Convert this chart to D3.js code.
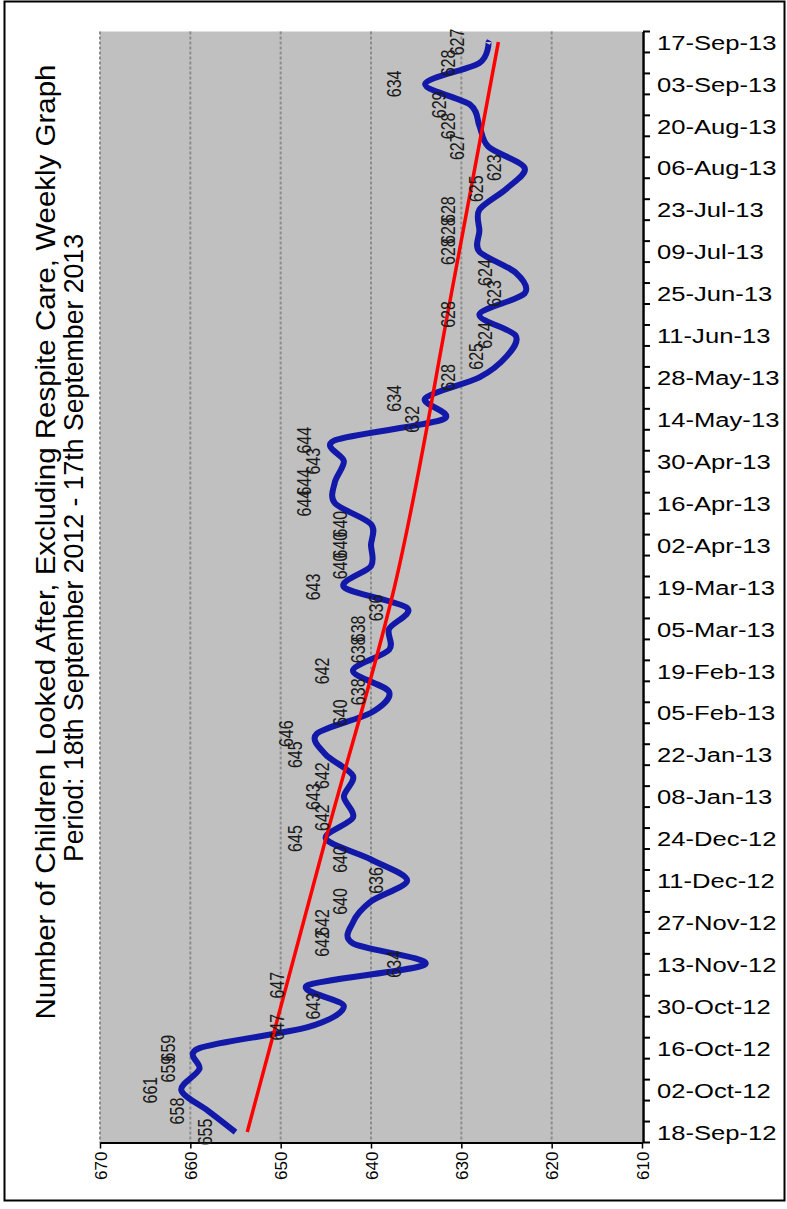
<!DOCTYPE html>
<html>
<head>
<meta charset="utf-8">
<script src="https://cdn.jsdelivr.net/npm/d3@7"></script>
<style>
  body { margin: 0; background: #fff; }
  svg { display: block; }
</style>
</head>
<body>
<svg id="chart" width="787" height="1209"></svg>
<script>
// Weekly count of children looked after (excluding respite care)
const weekDates = [
  "18-Sep-12","25-Sep-12","02-Oct-12","09-Oct-12","16-Oct-12","23-Oct-12","30-Oct-12","06-Nov-12",
  "13-Nov-12","20-Nov-12","27-Nov-12","04-Dec-12","11-Dec-12","18-Dec-12","24-Dec-12","31-Dec-12",
  "08-Jan-13","15-Jan-13","22-Jan-13","29-Jan-13","05-Feb-13","12-Feb-13","19-Feb-13","26-Feb-13",
  "05-Mar-13","12-Mar-13","19-Mar-13","26-Mar-13","02-Apr-13","09-Apr-13","16-Apr-13","23-Apr-13",
  "30-Apr-13","07-May-13","14-May-13","21-May-13","28-May-13","04-Jun-13","11-Jun-13","18-Jun-13",
  "25-Jun-13","02-Jul-13","09-Jul-13","16-Jul-13","23-Jul-13","30-Jul-13","06-Aug-13","13-Aug-13",
  "20-Aug-13","27-Aug-13","03-Sep-13","10-Sep-13","17-Sep-13"
];
const childrenCounts = [
  655,658,661,659,659,647,643,647,634,642,642,640,636,640,645,642,643,642,645,646,
  640,638,642,638,638,636,643,640,640,640,644,644,643,644,632,634,628,625,624,628,
  623,624,628,628,628,625,623,627,628,629,634,628,627
];
// Trend line, sampled at a few weeks
const trendWeeks = ["18-Sep-12","24-Dec-12","19-Mar-13","25-Jun-13","17-Sep-13"];
const trendValues = [653.7, 645.0, 637.4, 631.1, 625.9];

const valueTicks = [670, 660, 650, 640, 630, 620, 610];
const dateTickLabels = [
  "18-Sep-12","02-Oct-12","16-Oct-12","30-Oct-12","13-Nov-12","27-Nov-12","11-Dec-12",
  "24-Dec-12","08-Jan-13","22-Jan-13","05-Feb-13","19-Feb-13","05-Mar-13","19-Mar-13",
  "02-Apr-13","16-Apr-13","30-Apr-13","14-May-13","28-May-13","11-Jun-13","25-Jun-13",
  "09-Jul-13","23-Jul-13","06-Aug-13","20-Aug-13","03-Sep-13","17-Sep-13"
];
const titleLines = [
  "Number of Children Looked After, Excluding Respite Care, Weekly Graph",
  "Period: 18th  September 2012 - 17th  September 2013"
];

const svg = d3.select("#chart");
const plot = { left: 100, right: 642, top: 31.5, bottom: 1142.5 };
const stretch = 1.28; // horizontal stretch applied to the data labels

// Outer frame
svg.append("rect")
  .attr("x", 4.5).attr("y", 1.5).attr("width", 780).attr("height", 1199)
  .attr("fill", "#fff").attr("stroke", "#000").attr("stroke-width", 2);

const x = d3.scaleLinear().domain([670, 610]).range([plot.left, plot.right]);
const y = d3.scaleBand().domain(weekDates).range([plot.bottom, plot.top]).paddingInner(0).paddingOuter(0);
const yc = d => y(d) + y.bandwidth() / 2;

// Plot area
svg.append("rect")
  .attr("x", plot.left).attr("y", plot.top)
  .attr("width", plot.right - plot.left).attr("height", plot.bottom - plot.top)
  .attr("fill", "#c0c0c0");

// Vertical dotted grid lines
svg.append("g").selectAll("line")
  .data(valueTicks.slice(0, -1))
  .join("line")
  .attr("x1", d => x(d)).attr("x2", d => x(d))
  .attr("y1", plot.top).attr("y2", plot.bottom)
  .attr("stroke", "#8c8c8c").attr("stroke-width", 2)
  .attr("stroke-dasharray", "3,2");

// Value axis along the bottom
const xAxis = svg.append("g")
  .attr("transform", `translate(0,${plot.bottom})`)
  .call(d3.axisBottom(x).tickValues(valueTicks).tickSize(6).tickSizeOuter(0).tickFormat(d3.format("d")));
xAxis.select(".domain").attr("stroke", "#000").attr("stroke-width", 2);
xAxis.selectAll(".tick line").attr("stroke", "#000").attr("stroke-width", 1.5);
xAxis.selectAll(".tick text")
  .attr("x", null).attr("y", null).attr("dy", null)
  .attr("text-anchor", "end")
  .attr("transform", `translate(6,9) rotate(-90)`)
  .attr("font-family", "Liberation Sans, Arial, sans-serif")
  .attr("font-size", 17)
  .attr("fill", "#000");

// Date axis on the right
const yAxis = svg.append("g")
  .attr("transform", `translate(${plot.right + 1},0)`)
  .call(d3.axisRight(y).tickValues(dateTickLabels).tickSize(0).tickPadding(0));
yAxis.select(".domain").attr("stroke", "#000").attr("stroke-width", 2.5);
yAxis.selectAll(".tick text")
  .attr("x", null)
  .attr("transform", `translate(14,1) scale(1.22,1)`)
  .attr("font-family", "Liberation Sans, Arial, sans-serif")
  .attr("font-size", 21)
  .attr("fill", "#000");

// Weekly tick marks at the band boundaries
const boundaries = weekDates.map(d => y(d) + y.bandwidth()).concat([plot.top]);
svg.append("g").selectAll("line")
  .data(boundaries)
  .join("line")
  .attr("x1", plot.right + 1).attr("x2", plot.right + 8)
  .attr("y1", d => d).attr("y2", d => d)
  .attr("stroke", "#000").attr("stroke-width", 2);

// Weekly count line, smoothed
const series = weekDates.map((d, i) => ({ date: d, value: childrenCounts[i] }));
const line = d3.line()
  .x(d => x(d.value))
  .y(d => yc(d.date))
  .curve(d3.curveCardinal.tension(0.1));
svg.append("path")
  .datum(series)
  .attr("d", line)
  .attr("fill", "none")
  .attr("stroke", "#1218a8")
  .attr("stroke-width", 6)
  .attr("stroke-linejoin", "round");

// Trend line
const trend = trendWeeks.map((d, i) => ({ date: d, value: trendValues[i] }));
svg.append("path")
  .datum(trend)
  .attr("d", d3.line().x(d => x(d.value)).y(d => yc(d.date)).curve(d3.curveMonotoneY))
  .attr("fill", "none")
  .attr("stroke", "#ff0000")
  .attr("stroke-width", 3.5);

// Data labels beside each point
svg.append("g").selectAll("text")
  .data(series)
  .join("text")
  .attr("transform", d => `translate(${x(d.value) - 24},${yc(d.date)}) scale(${stretch},1) rotate(-90)`)
  .attr("text-anchor", "middle")
  .attr("font-family", "Liberation Sans, Arial, sans-serif")
  .attr("font-size", 16)
  .attr("fill", "#1a1a1a")
  .text(d => d.value);

// Title, rotated along the left edge
svg.append("g").selectAll("text")
  .data(titleLines)
  .join("text")
  .attr("transform", (d, i) => `translate(${i === 0 ? 55 : 83},${i === 0 ? 542 : 548}) rotate(-90)`)
  .attr("text-anchor", "middle")
  .attr("textLength", (d, i) => i === 0 ? 955 : 628)
  .attr("lengthAdjust", "spacingAndGlyphs")
  .attr("font-family", "Liberation Sans Narrow, Arial Narrow, Liberation Sans, sans-serif")
  .attr("font-size", 27)
  .attr("fill", "#000")
  .text(d => d);
</script>
</body>
</html>
